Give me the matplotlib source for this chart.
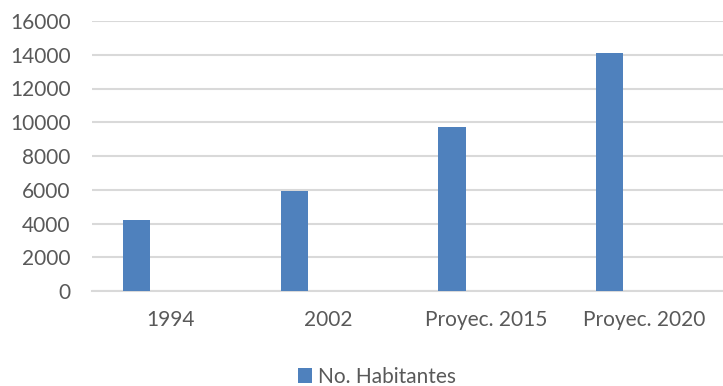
import matplotlib.pyplot as plt
import numpy as np

categories = ["1994", "2002", "Proyec. 2015", "Proyec. 2020"]
habitantes = [4200, 5900, 9730, 14100]
series_name = "No. Habitantes"

BAR_COLOR = "#4F81BD"
TEXT_COLOR = "#595959"
GRID_COLOR = "#D9D9D9"

plt.rcParams["font.family"] = ["Lato", "DejaVu Sans"]

fig = plt.figure(figsize=(7.23, 3.86), dpi=100)
ax = fig.add_axes([92 / 723, 95 / 386, 631 / 723, 270 / 386])

x = np.arange(len(categories))
# excel-style cluster: the single series sits left of the category centre
ax.bar(x - 0.218, habitantes, width=0.173, color=BAR_COLOR, label=series_name, zorder=3)

ax.set_xlim(-0.5, len(categories) - 0.5)
ax.set_ylim(0, 16000)
ax.set_yticks(np.arange(0, 16001, 2000))
ax.set_xticks(x)
ax.set_xticklabels(categories)

ax.yaxis.grid(True, color=GRID_COLOR, linewidth=1.5, zorder=0)
for side in ["top", "right", "left"]:
    ax.spines[side].set_visible(False)
ax.spines["bottom"].set_color(GRID_COLOR)
ax.spines["bottom"].set_linewidth(1.5)

ax.tick_params(axis="both", length=0, labelsize=15, colors=TEXT_COLOR)
ax.tick_params(axis="y", pad=15.5)
ax.tick_params(axis="x", pad=14)

fig.legend(loc="lower center", bbox_to_anchor=(377 / 723, -0.05), frameon=False,
           fontsize=15, labelcolor=TEXT_COLOR, handlelength=0.7, handleheight=0.7,
           handletextpad=0.3)

fig.savefig("out.png", dpi=100)
